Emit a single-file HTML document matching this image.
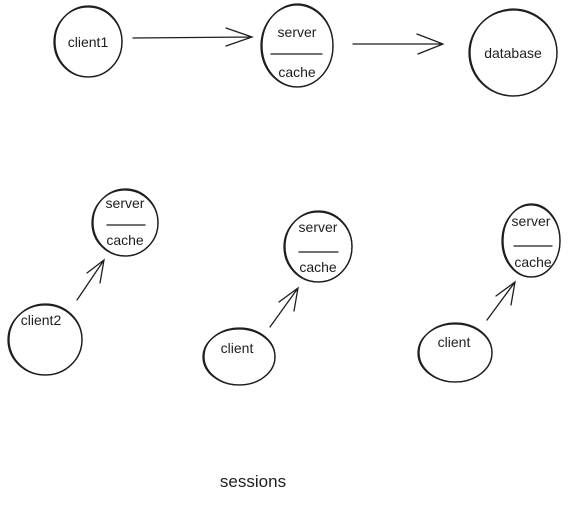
<!DOCTYPE html>
<html><head><meta charset="utf-8"><style>
html,body{margin:0;padding:0;background:#fff;}
svg{display:block;}
text{font-family:"Liberation Sans",sans-serif;fill:#1e1e1e;}
</style></head><body>
<svg width="577" height="528" viewBox="0 0 577 528" xmlns="http://www.w3.org/2000/svg">
<g fill="none" stroke="#1e1e1e" stroke-width="1.3" stroke-linecap="round">
<ellipse cx="88" cy="42" rx="34" ry="35"/>
<ellipse cx="88.5" cy="41.5" rx="33.5" ry="35.5"/>
<path d="M133 38 L252 37 M226 28 L252 37 L226 46"/>
<ellipse cx="297" cy="46" rx="36" ry="41"/>
<ellipse cx="297.5" cy="45.5" rx="35.5" ry="41.5"/>
<path d="M271 54 L322 54"/>
<path d="M353 44 L443 44 M417 34 L443 44 L418 54"/>
<ellipse cx="513" cy="53" rx="44" ry="43"/>
<ellipse cx="513.5" cy="52.5" rx="43.5" ry="43.5"/>
<ellipse cx="125" cy="223" rx="33" ry="33"/>
<ellipse cx="125.5" cy="222.5" rx="32.5" ry="33.5"/>
<path d="M107 225 L145 225"/>
<ellipse cx="45" cy="340" rx="37" ry="35"/>
<ellipse cx="45.5" cy="339.5" rx="36.5" ry="35.5"/>
<path d="M77 300 L104 260 M87 273 L104 260 L100 283"/>
<ellipse cx="318" cy="247" rx="34" ry="35"/>
<ellipse cx="318.5" cy="246.5" rx="33.5" ry="35.5"/>
<path d="M299 252 L338 252"/>
<ellipse cx="239" cy="357" rx="36" ry="28"/>
<ellipse cx="239.5" cy="356.5" rx="35.5" ry="28.5"/>
<path d="M270 327 L298 288 M279 302 L298 288 L294 311"/>
<ellipse cx="531" cy="241" rx="29" ry="36"/>
<ellipse cx="531.5" cy="240.5" rx="28.5" ry="36.5"/>
<path d="M514 246 L552 246"/>
<ellipse cx="455" cy="353" rx="37" ry="29"/>
<ellipse cx="455.5" cy="352.5" rx="36.5" ry="29.5"/>
<path d="M487 320 L515 282 M496 296 L515 282 L511 305"/>
</g>
<g font-size="14">
<text x="88" y="47" text-anchor="middle">client1</text>
<text x="297" y="37" text-anchor="middle">server</text>
<text x="297" y="77" text-anchor="middle">cache</text>
<text x="513" y="58" text-anchor="middle">database</text>
<text x="125" y="208" text-anchor="middle">server</text>
<text x="125" y="245" text-anchor="middle">cache</text>
<text x="41" y="325" text-anchor="middle">client2</text>
<text x="318" y="232" text-anchor="middle">server</text>
<text x="318" y="272" text-anchor="middle">cache</text>
<text x="237" y="353" text-anchor="middle">client</text>
<text x="531" y="226" text-anchor="middle">server</text>
<text x="533" y="267" text-anchor="middle">cache</text>
<text x="454" y="347" text-anchor="middle">client</text>
</g>
<text x="253" y="487" font-size="17" text-anchor="middle">sessions</text>
</svg>
</body></html>
